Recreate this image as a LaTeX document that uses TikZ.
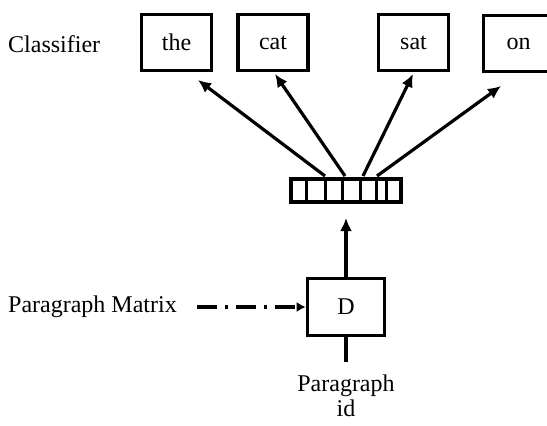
\documentclass[tikz,border=0pt]{standalone}
\usepackage{fontspec}
\setmainfont{Liberation Serif}
\usetikzlibrary{arrows.meta}
\begin{document}
\begin{tikzpicture}[x=1pt,y=-1pt,
  wordbox/.style={draw,line width=3.6pt,minimum width=70pt,minimum height=56pt,inner sep=0pt,font=\fontsize{24}{28}\selectfont},
  lbl/.style={inner sep=0pt,font=\fontsize{24}{28}\selectfont},
  arr/.style={line width=3.2pt,-{Latex[length=13pt,width=12pt]}},
  vcell/.style={draw,line width=2.5pt}]
\useasboundingbox (0,0) rectangle (547,426);
\clip (0,0) rectangle (547,426);
% word boxes
\node[wordbox] (the) at (176.5,42.5) {the};
\node[wordbox] (cat) at (273,42.5) {cat};
\node[wordbox] (sat) at (413.5,42.5) {sat};
\node[wordbox] (on) at (518.5,43.5) {on};
% labels
\node[lbl,anchor=west] (cls) at (8,44) {Classifier};
\node[lbl,anchor=west] (pm) at (8,307) {Paragraph Matrix};
\node[lbl,align=center,anchor=north,font=\fontsize{24}{25}\selectfont] (pid) at (346,375) {Paragraph\\id};
% vector
\node[draw,line width=4.2pt,minimum width=110pt,minimum height=23pt,inner sep=0pt] (vec) at (346,190.5) {};
\foreach \xx in {306.7,325,342.7,360,376.7,386.7}
  \draw[line width=3pt] (\xx,178) -- (\xx,203);
% D box
\node[draw,line width=3.6pt,minimum width=77pt,minimum height=57pt,inner sep=0pt,font=\fontsize{24}{28}\selectfont] (D) at (346,307) {D};
% coordinates
\coordinate (s1) at (325,176);
\coordinate (s2) at (345,176);
\coordinate (s3) at (363,176);
\coordinate (s4) at (377,176);
\coordinate (e1) at (198,80);
\coordinate (e2) at (275,74);
\coordinate (e3) at (413,74);
\coordinate (e4) at (501,86);
\coordinate (vin) at (346,218);
\coordinate (pmend) at (197,307);
\coordinate (idtop) at (346,362);
% connectors
\draw[arr] (s1) -- (e1);
\draw[arr] (s2) -- (e2);
\draw[arr] (s3) -- (e3);
\draw[arr] (s4) -- (e4);
\draw[arr] (D.north) -- (vin);
\draw[line width=3.5pt,dash pattern=on 20pt off 8pt on 3pt off 8pt,-{Latex[length=9pt,width=10pt]}] (pmend) -- (D.west);
\draw[line width=3.6pt] (D.south) -- (idtop);
\end{tikzpicture}
\end{document}
